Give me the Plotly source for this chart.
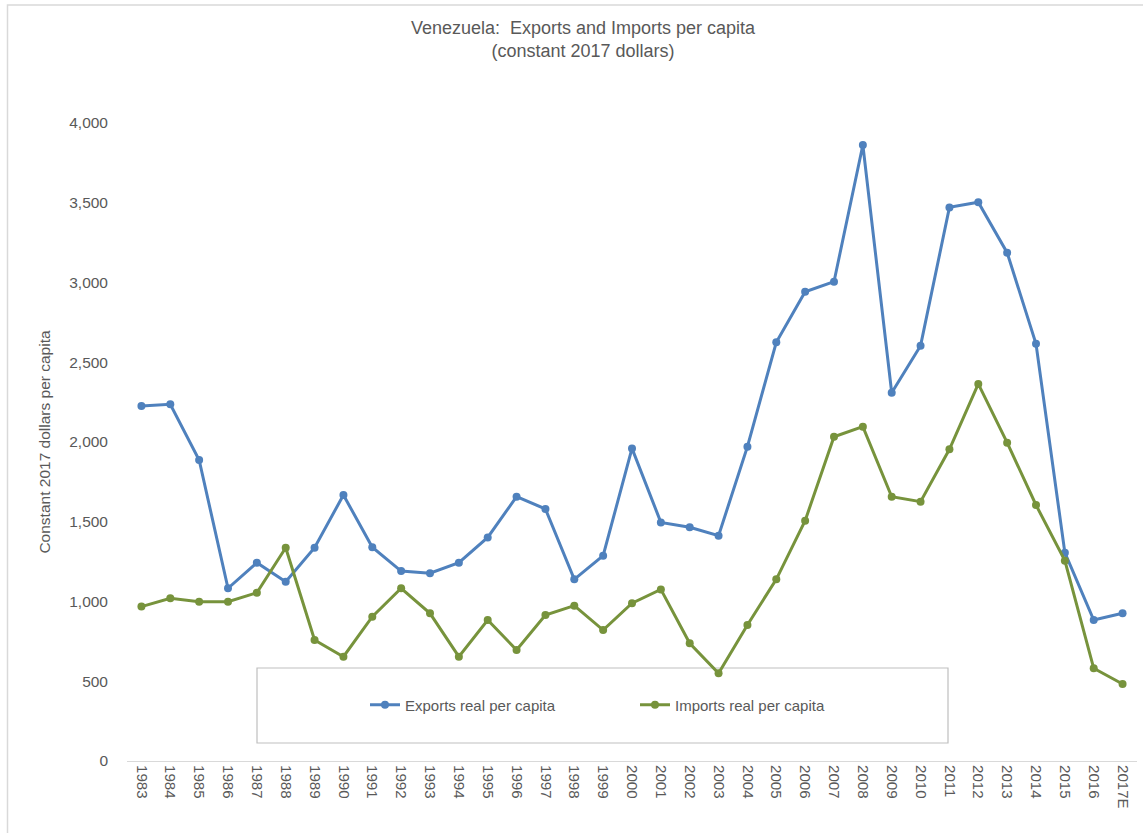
import plotly.graph_objects as go

years = [str(y) for y in range(1983, 2017)] + ["2017E"]

exports = [2226, 2236, 1887, 1083, 1243, 1124, 1337, 1668, 1340, 1191,
           1177, 1243, 1402, 1657, 1580, 1139, 1287, 1960, 1496, 1465,
           1413, 1971, 2625, 2942, 3005, 3862, 2309, 2604, 3471, 3503,
           3187, 2616, 1306, 884, 926]

imports = [968, 1020, 999, 999, 1055, 1337, 759, 654, 905, 1083,
           926, 654, 884, 696, 915, 974, 821, 989, 1076, 738,
           550, 853, 1139, 1507, 2033, 2096, 1657, 1626, 1954, 2364,
           1996, 1605, 1256, 581, 483]

y_ticks = [0, 500, 1000, 1500, 2000, 2500, 3000, 3500, 4000]

BLUE = "#4F81BD"
GREEN = "#77933C"
GREY = "#595959"
REG = "Liberation Sans, Arial, sans-serif"

W, H = 1143, 833
# target plot area: x 127..1137, y 123..761
L, T = 127, 123
R = W - 1137
B = H - 761
pw, ph = W - L - R, H - T - B

def px(x):  # page x -> paper
    return (x - L) / pw

def py(y):  # page y -> paper
    return (T + ph - y) / ph

fig = go.Figure()
fig.add_trace(go.Scatter(x=years, y=exports, name="Exports real per capita",
                         mode="lines+markers",
                         line=dict(color=BLUE, width=3),
                         marker=dict(color=BLUE, size=8)))
fig.add_trace(go.Scatter(x=years, y=imports, name="Imports real per capita",
                         mode="lines+markers",
                         line=dict(color=GREEN, width=3),
                         marker=dict(color=GREEN, size=8)))

fig.update_layout(
    width=W, height=H,
    margin=dict(l=L, r=R, t=T, b=B, autoexpand=False),
    paper_bgcolor="white", plot_bgcolor="white",
    font=dict(family=REG, color=GREY, size=13),
    title=dict(text="Venezuela:  Exports and Imports per capita<br>(constant 2017 dollars)",
               x=583 / W, xref="container", xanchor="center",
               y=1 - 34 / H, yref="container", yanchor="top", automargin=False,
               font=dict(family=REG, size=18, color=GREY)),
    showlegend=True,
    legend=dict(orientation="h", x=px(365), y=py(705), xanchor="left", yanchor="middle",
                xref="paper", yref="paper",
                font=dict(family=REG, size=15, color=GREY),
                entrywidth=225, entrywidthmode="pixels",
                bgcolor="rgba(0,0,0,0)", borderwidth=0),
    shapes=[
        dict(type="rect", xref="paper", yref="paper",
             x0=px(257), x1=px(948), y0=py(743), y1=py(668),
             line=dict(color="#BFBFBF", width=1.2), fillcolor="rgba(0,0,0,0)", layer="below"),
        dict(type="rect", xref="paper", yref="paper",
             x0=px(7.5), x1=px(1160), y0=py(850), y1=py(5),
             line=dict(color="#D9D9D9", width=1.5), fillcolor="rgba(0,0,0,0)", layer="below"),
    ],
)

fig.update_xaxes(type="category", categoryorder="array", categoryarray=years,
                 range=[-0.5, len(years) - 0.5],
                 tickangle=90, showgrid=False, showline=True, linecolor="#D9D9D9",
                 linewidth=1.2, ticks="", tickfont=dict(family=REG, size=15, color=GREY),
                 zeroline=False, automargin=False)
fig.update_yaxes(range=[0, 4000], tickvals=y_ticks, tickformat=",d",
                 showgrid=False, showline=False, zeroline=False, ticks="",
                 ticklabelstandoff=18, automargin=False,
                 tickfont=dict(family=REG, size=15.5, color=GREY),
                 title=dict(text="Constant 2017 dollars per capita", standoff=14,
                            font=dict(family=REG, size=15.5, color=GREY)))

fig.write_html("out.html", config={"displayModeBar": False},
               post_script="document.body.style.margin='0';document.body.style.overflow='hidden';")
